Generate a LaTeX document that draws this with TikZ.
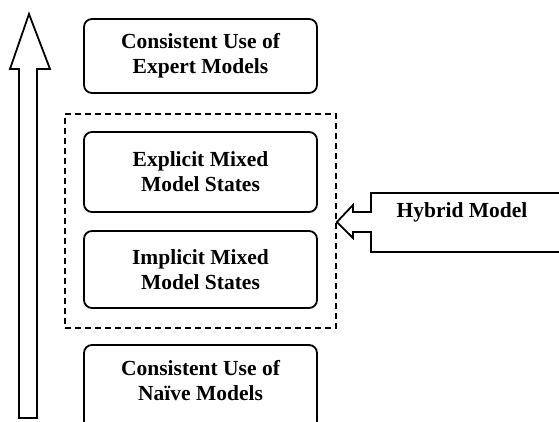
\documentclass[tikz,border=0pt]{standalone}
\usepackage{fontspec}
\setmainfont{Liberation Serif}
\usetikzlibrary{fit}
\tikzset{
  stagebox/.style={draw=black, line width=1.8pt, rounded corners=8pt, minimum width=233pt,
    align=center, font=\bfseries\fontsize{21.5}{25}\selectfont, inner sep=0pt},
  groupbox/.style={draw=black, line width=1.8pt, dash pattern=on 6pt off 4pt, inner sep=0pt},
  bigarrow/.style={draw=black, line width=1.8pt, line join=miter, fill=white},
  lbl/.style={font=\bfseries\fontsize{21.5}{25}\selectfont, inner sep=0pt}
}
\begin{document}
\begin{tikzpicture}[x=1pt,y=-1pt]
\useasboundingbox (0,0) rectangle (559,422);
% left upward arrow
\draw[bigarrow] (29,14) -- (50,69) -- (37,69) -- (37,418) -- (19,418) -- (19,69) -- (10,69) -- cycle;
% stage boxes
\node[stagebox, minimum height=74pt] (expert) at (200.5,56) {Consistent Use of\\Expert Models};
\node[stagebox, minimum height=80pt] (explicit) at (200.5,172) {Explicit Mixed\\Model States};
\node[stagebox, minimum height=77pt] (implicit) at (200.5,269.5) {Implicit Mixed\\Model States};
\node[stagebox, minimum height=84pt, text depth=0pt] (naive) at (200.5,387) {};
\node[lbl, align=center] (naivetext) at (200.5,381) {Consistent Use of\\Na\"ive Models};
% dashed grouping box
\coordinate (gtl) at (65,114);
\coordinate (gbr) at (336,328);
\node[groupbox, fit=(gtl)(gbr)] (group) {};
% hybrid model callout arrow
\coordinate (tip) at (group.east |- 0,222);
\draw[bigarrow] (563,193) -- (371,193) -- (371,212) -- (353,212) -- (353,205)
  -- (tip) -- (353,238) -- (353,232) -- (371,232) -- (371,252) -- (563,252);
\node[lbl] (hybrid) at (462,212) {Hybrid Model};
\end{tikzpicture}
\end{document}
